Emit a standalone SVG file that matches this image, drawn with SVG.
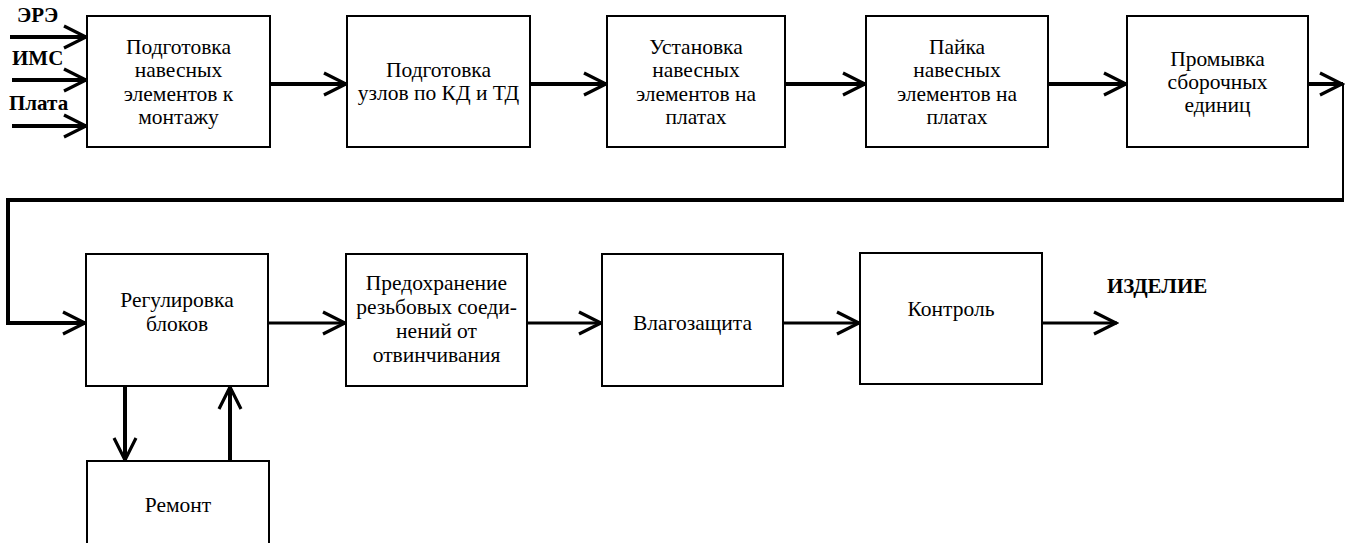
<svg xmlns="http://www.w3.org/2000/svg" width="1345" height="543" viewBox="0 0 1345 543">
<defs>
<marker id="ah" markerUnits="userSpaceOnUse" viewBox="-26 -14 28 28" markerWidth="28" markerHeight="28" refX="0" refY="0" orient="auto">
<path d="M-23,-11 L-1,0 L-23,11" fill="none" stroke="#000" stroke-width="3.2" stroke-linejoin="miter"/>
</marker>
<style>
.box{fill:#fff;stroke:#000;stroke-width:2}
.t{font-size:21.5px;fill:#000;text-anchor:middle}
.b{font-size:21px;font-weight:bold;fill:#000}
.c{fill:none;stroke:#000;stroke-width:4}
.c3{fill:none;stroke:#000;stroke-width:3}
</style>
</defs>
<rect width="1345" height="543" fill="#fff"/>
<g id="connectors">
<path class="c" d="M10,37 H87" marker-end="url(#ah)"/>
<path class="c" d="M12,80 H87" marker-end="url(#ah)"/>
<path class="c" d="M12,126 H87" marker-end="url(#ah)"/>
<path class="c" d="M270,84 H347" marker-end="url(#ah)"/>
<path class="c" d="M530,84 H607" marker-end="url(#ah)"/>
<path class="c" d="M785,84 H866" marker-end="url(#ah)"/>
<path class="c" d="M1048,84 H1127" marker-end="url(#ah)"/>
<path class="c" d="M1308,84 H1343" marker-end="url(#ah)"/>
<path fill="none" stroke="#000" stroke-width="2" d="M1343,84 V200"/>
<path class="c" d="M1344,200 H8 V323 H86" marker-end="url(#ah)"/>
<path class="c3" d="M268,323 H346" marker-end="url(#ah)"/>
<path class="c3" d="M527,323 H602" marker-end="url(#ah)"/>
<path class="c3" d="M783,323 H860" marker-end="url(#ah)"/>
<path class="c3" d="M1042,323 H1117" marker-end="url(#ah)"/>
<path class="c" d="M125,386 V461" marker-end="url(#ah)"/>
<path class="c" d="M230,461 V386" marker-end="url(#ah)"/>
</g>
<g font-family="Liberation Serif, Times New Roman, serif">
<g id="inputs">
<text class="b" x="17" y="22">ЭРЭ</text>
<text class="b" x="12" y="65">ИМС</text>
<text class="b" x="9" y="110">Плата</text>
</g>
<g id="n1">
<rect class="box" x="87" y="16" width="183" height="131"/>
<text class="t" x="178.5" y="54">Подготовка</text>
<text class="t" x="178.5" y="77">навесных</text>
<text class="t" x="178.5" y="101">элементов к</text>
<text class="t" x="178.5" y="124">монтажу</text>
</g>
<g id="n2">
<rect class="box" x="347" y="16" width="183" height="131"/>
<text class="t" x="438.5" y="77">Подготовка</text>
<text class="t" x="438.5" y="100">узлов по КД и ТД</text>
</g>
<g id="n3">
<rect class="box" x="607" y="16" width="178" height="131"/>
<text class="t" x="696" y="54">Установка</text>
<text class="t" x="696" y="77">навесных</text>
<text class="t" x="696" y="101">элементов на</text>
<text class="t" x="696" y="124">платах</text>
</g>
<g id="n4">
<rect class="box" x="866" y="16" width="182" height="131"/>
<text class="t" x="957" y="54">Пайка</text>
<text class="t" x="957" y="77">навесных</text>
<text class="t" x="957" y="101">элементов на</text>
<text class="t" x="957" y="124">платах</text>
</g>
<g id="n5">
<rect class="box" x="1127" y="16" width="181" height="131"/>
<text class="t" x="1217.5" y="66">Промывка</text>
<text class="t" x="1217.5" y="89">сборочных</text>
<text class="t" x="1217.5" y="112">единиц</text>
</g>
<g id="n6">
<rect class="box" x="86" y="254" width="182" height="132"/>
<text class="t" x="177" y="307">Регулировка</text>
<text class="t" x="177" y="331">блоков</text>
</g>
<g id="n7">
<rect class="box" x="346" y="254" width="181" height="132"/>
<text class="t" x="436.5" y="290">Предохранение</text>
<text class="t" x="436.5" y="314">резьбовых соеди-</text>
<text class="t" x="436.5" y="338">нений от</text>
<text class="t" x="436.5" y="362">отвинчивания</text>
</g>
<g id="n8">
<rect class="box" x="602" y="254" width="181" height="132"/>
<text class="t" x="692.5" y="330">Влагозащита</text>
</g>
<g id="n9">
<rect class="box" x="860" y="253" width="182" height="131"/>
<text class="t" x="951" y="316">Контроль</text>
</g>
<g id="n10">
<rect class="box" x="87" y="461" width="182" height="100"/>
<text class="t" x="178" y="512">Ремонт</text>
</g>
<g id="output">
<text class="b" x="1107" y="293">ИЗДЕЛИЕ</text>
</g>
</g>
</svg>
